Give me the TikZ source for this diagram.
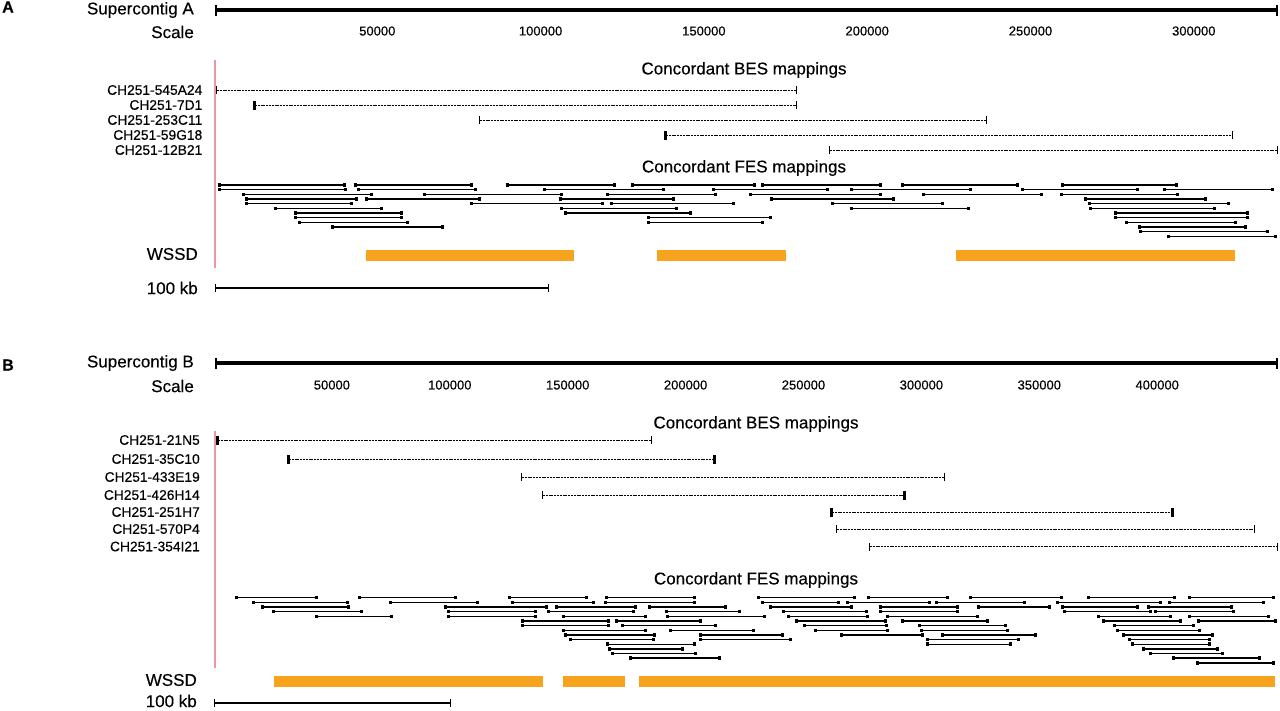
\documentclass[tikz,border=0pt]{standalone}
\usepackage{fontspec}
\setmainfont{Liberation Sans}[FakeBold=0.3]
\usetikzlibrary{arrows.meta}
\definecolor{wssd}{RGB}{247,163,30}
\definecolor{pinkln}{RGB}{238,150,160}
\tikzset{
  tk/.tip={Bar[width=9pt,line width=2.6pt]},
  tn/.tip={Bar[width=8pt,line width=1.2pt]},
  sq/.tip={Square[length=3pt,width=3.5pt]}
}
\begin{document}
\begin{tikzpicture}[x=1pt,y=-1pt,
  hdr/.style={font=\fontsize{17}{20}\selectfont, anchor=east, inner sep=0pt},
  lbl/.style={font=\fontsize{13.8}{16}\selectfont, anchor=east, inner sep=0pt},
  num/.style={font=\fontsize{13}{15}\selectfont, inner sep=0pt},
  title/.style={font=\fontsize{17}{20}\selectfont, inner sep=0pt},
  panel/.style={font=\bfseries\fontsize{16}{18}\selectfont, inner sep=0pt},
  contig/.style={line width=4pt, {Bar[width=11pt,line width=2pt]}-{Bar[width=11pt,line width=2pt]}},
  fes/.style={line width=1.4pt, sq-sq},
  bes/.style={line width=1pt, dash pattern=on 2pt off 0.8pt},
  wssdbar/.style={fill=wssd, draw=none},
  pinkline/.style={draw=pinkln, line width=1.2pt},
  kb/.style={line width=1.1pt, tn-tn}]
\useasboundingbox (0,0) rectangle (1280,710);
\fill[white] (0,0) rectangle (1280,710);

%% ================= PANEL A =================
\node[panel] (pA) at (8,7) {A};
\node[hdr] (scA) at (194,10) {Supercontig A};
\coordinate (cA1) at (215,10);
\coordinate (cA2) at (1278,10);
\draw[contig] (cA1) -- (cA2);
\node[hdr] (scaleA) at (194,32) {Scale};
\foreach \v [count=\i] in {50000,100000,150000,200000,250000,300000}
  \node[num] (nA\i) at ({214+163.3*\i},31) {\v};

\coordinate (pkA1) at (215,60);
\coordinate (pkA2) at (215,268);
\draw[pinkline] (pkA1) -- (pkA2);

\node[title] (besA) at (744,70) {Concordant BES mappings};
\foreach \n/\y/\a/\b/\ta/\tb [count=\i] in {
  CH251-545A24/90/216/797/tn/tn,
  CH251-7D1/105/253/797/tk/tn,
  CH251-253C11/120/479/987/tn/tn,
  CH251-59G18/135/664/1233/tk/tn,
  CH251-12B21/150/829/1278/tn/tn}{
  \node[lbl] (lA\i) at (202.5,\y) {\n};
  \coordinate (bA\i s) at (\a,\y);
  \coordinate (bA\i e) at (\b,\y);
  \draw[bes, arrows={\ta-\tb}] (bA\i s) -- (bA\i e);
}

\node[title] (fesA) at (744,168) {Concordant FES mappings};
\foreach \r/\a/\b in {
 0/218/346, 0/354/473, 0/506/616, 0/631/756, 0/761/882, 0/901/1019, 0/1061/1178,
 1/218/347, 1/357/477, 1/543/665, 1/712/829, 1/850/972, 1/1021/1139, 1/1163/1274,
 2/242/373, 2/423/563, 2/606/717, 2/749/882, 2/922/1043, 2/1060/1179,
 3/245/358, 3/365/481, 3/559/675, 3/770/895, 3/1084/1207,
 4/245/353, 4/470/604, 4/610/735, 4/831/944, 4/1088/1230,
 5/274/383, 5/560/678, 5/850/970, 5/1089/1216,
 6/294/403, 6/564/692, 6/1114/1249,
 7/294/403, 7/647/772, 7/1114/1249,
 8/298/409, 8/647/764, 8/1125/1237,
 9/331/444, 9/1138/1247,
 10/1139/1269,
 11/1167/1277}{
  \draw[fes] (\a,{185+4.67*\r}) -- (\b,{185+4.67*\r});
}

\node[hdr] (wA) at (198,254) {WSSD};
\fill[wssdbar] (366,249.5) rectangle (574,260.5);
\fill[wssdbar] (657,249.5) rectangle (786,260.5);
\fill[wssdbar] (956,249.5) rectangle (1235,260.5);

\node[hdr] (kbA) at (198,288) {100 kb};
\coordinate (kA1) at (215,288);
\coordinate (kA2) at (549,288);
\draw[kb] (kA1) -- (kA2);

%% ================= PANEL B =================
\node[panel] (pB) at (8,365) {B};
\node[hdr] (scB) at (194,363) {Supercontig B};
\coordinate (cB1) at (215,363);
\coordinate (cB2) at (1278,363);
\draw[contig] (cB1) -- (cB2);
\node[hdr] (scaleB) at (194,386) {Scale};
\foreach \v [count=\i] in {50000,100000,150000,200000,250000,300000,350000,400000}
  \node[num] (nB\i) at ({214+117.9*\i},385) {\v};

\coordinate (pkB1) at (215,431);
\coordinate (pkB2) at (215,668);
\draw[pinkline] (pkB1) -- (pkB2);

\node[title] (besB) at (756,424) {Concordant BES mappings};
\foreach \n/\y/\a/\b/\ta/\tb [count=\i] in {
  CH251-21N5/440/216/652/tk/tn,
  CH251-35C10/459/287/716/tk/tk,
  CH251-433E19/477/521/945/tn/tn,
  CH251-426H14/495/542/906/tn/tk,
  CH251-251H7/512/830/1174/tk/tk,
  CH251-570P4/529/836/1255/tn/tn,
  CH251-354I21/546.5/869/1278/tn/tn}{
  \node[lbl] (lB\i) at (200,\y) {\n};
  \coordinate (bB\i s) at (\a,\y);
  \coordinate (bB\i e) at (\b,\y);
  \draw[bes, arrows={\ta-\tb}] (bB\i s) -- (bB\i e);
}

\node[title] (fesB) at (756,580) {Concordant FES mappings};
\foreach \r/\a/\b in {
 0/235/318, 0/358/457, 0/508/588, 0/605/696, 0/757/856, 0/867/949, 0/969/1063, 0/1087/1176, 0/1188/1275,
 1/252/349, 1/389/479, 1/511/595, 1/604/696, 1/761/840, 1/846/931, 1/935/1026, 1/1056/1162, 1/1168/1265,
 2/261/350, 2/444/548, 2/555/637, 2/648/727, 2/769/853, 2/879/959, 2/977/1051, 2/1061/1139, 2/1147/1233,
 3/272/363, 3/447/537, 3/547/635, 3/665/741, 3/782/868, 3/879/959, 3/1063/1152, 3/1154/1235,
 4/315/393, 4/447/537, 4/562/647, 4/666/766, 4/787/869, 4/886/979, 4/1097/1172, 4/1188/1270,
 5/521/610, 5/615/702, 5/795/887, 5/901/989, 5/1102/1182, 5/1197/1277,
 6/521/610, 6/621/717, 6/803/888, 6/918/1007, 6/1113/1195,
 7/562/647, 7/669/755, 7/814/889, 7/920/1009, 7/1116/1201,
 8/564/656, 8/699/784, 8/840/924, 8/941/1037, 8/1122/1214,
 9/569/655, 9/699/792, 9/926/1020, 9/1128/1211,
 10/606/696, 10/926/1012, 10/1131/1211,
 11/608/684, 11/1142/1219,
 12/611/697, 12/1149/1224,
 13/629/721, 13/1172/1261,
 14/1196/1275}{
  \draw[fes] (\a,{597.7+4.65*\r}) -- (\b,{597.7+4.65*\r});
}

\node[hdr] (wB) at (197,680) {WSSD};
\fill[wssdbar] (274,675.5) rectangle (543,686.5);
\fill[wssdbar] (563,675.5) rectangle (625,686.5);
\fill[wssdbar] (639,675.5) rectangle (1275,686.5);

\node[hdr] (kbB) at (197,701) {100 kb};
\coordinate (kB1) at (214,703);
\coordinate (kB2) at (451,703);
\draw[kb] (kB1) -- (kB2);
\end{tikzpicture}
\end{document}
